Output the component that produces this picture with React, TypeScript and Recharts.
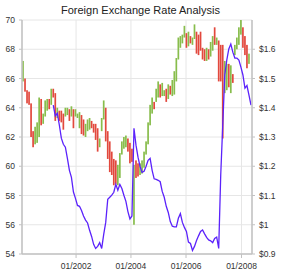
import React from 'react';
import { ComposedChart, Bar, Line, XAxis, YAxis, CartesianGrid } from 'recharts';

// Candle opens / closes (left axis, per period index)
const opens = [
  65.8, 66.0, 65.2, 65.1, 64.3, 62.4, 61.5, 61.6, 62.0, 64.6,
  62.9, 63.4, 63.8, 64.6, 64.2, 65.3, 65.0, 63.3, 63.8, 63.8,
  63.6, 63.4, 63.5, 63.9, 63.4, 63.9, 63.4, 63.3, 62.6, 63.5,
  63.2, 62.0, 62.4, 62.5, 63.1, 62.9, 62.9, 62.6, 61.3, 62.4,
  63.2, 64.0, 62.4, 61.7, 61.0, 60.5, 60.4, 58.7, 59.2, 60.8,
  61.2, 61.3, 61.9, 61.6, 61.2, 56.0, 60.4, 60.2, 59.4, 59.5,
  59.9, 60.8, 61.5, 62.8, 63.6, 64.4, 64.4, 64.7, 65.6, 64.8,
  64.8, 65.3, 64.6, 65.5, 64.8, 64.9, 65.8, 67.3, 68.1, 68.4,
  68.8, 69.1, 68.2, 68.9, 68.3, 68.7, 69.2, 69.0, 69.2, 68.1,
  68.0, 67.2, 68.0, 67.5, 67.9, 69.5, 68.3, 68.6, 68.3, 68.3,
  65.0, 65.2, 67.0, 65.0, 66.3, 67.6, 68.0, 68.3, 69.0, 69.5,
  68.9, 68.3, 67.0,
];
const closes = [
  67.2, 65.1, 64.3, 64.2, 62.0, 61.3, 62.7, 63.0, 64.7, 62.8,
  63.6, 64.5, 64.6, 63.9, 65.3, 64.7, 63.1, 64.0, 63.1, 63.0,
  62.5, 64.0, 64.0, 63.1, 64.1, 62.6, 63.9, 63.6, 63.7, 62.2,
  62.1, 62.9, 63.2, 63.3, 62.6, 62.3, 61.8, 61.0, 61.9, 63.3,
  64.5, 61.7, 60.5, 59.6, 59.4, 58.7, 58.8, 60.1, 60.9, 61.7,
  62.0, 62.1, 61.0, 60.2, 60.3, 60.1, 59.2, 59.3, 60.2, 60.4,
  61.0, 61.7, 63.0, 64.2, 64.7, 63.9, 65.3, 65.8, 64.7, 65.7,
  65.2, 64.4, 65.6, 64.9, 65.9, 66.5, 67.4, 68.8, 68.9, 69.0,
  69.6, 68.1, 69.2, 68.4, 68.8, 69.7, 67.7, 67.6, 67.9, 67.3,
  67.2, 68.1, 67.3, 68.5, 68.9, 68.3, 68.8, 65.8, 65.8, 61.9,
  67.2, 67.0, 65.4, 66.9, 65.7, 68.3, 68.8, 69.5, 70.0, 68.1,
  67.6, 66.7, 67.7,
];
// Exchange rate line (right axis)
const rates: (number | null)[] = [
  null, null, null, null, null, null, null, null, null, null,
  null, null, null, null, null, 1.409, 1.372, 1.381, 1.341, 1.296,
  1.275, 1.265, 1.227, 1.186, 1.162, 1.112, 1.090, 1.066, 1.063, 1.049,
  1.030, 1.016, 1.006, 0.981, 0.960, 0.933, 0.919, 0.926, 0.939, 0.919,
  0.967, 1.008, 1.087, 1.094, 1.101, 1.111, 1.138, 1.118, 1.138, 1.124,
  1.101, 1.080, 1.045, 1.020, 1.030, 1.330, 1.272, 1.231, 1.200, 1.179,
  1.183, 1.200, 1.220, 1.227, 1.186, 1.157, 1.155, 1.152, 1.147, 1.114,
  1.094, 1.063, 1.042, 1.011, 0.995, 0.993, 0.993, 1.022, 1.038, 1.008,
  0.991, 0.977, 0.941, 0.936, 0.912, 0.926, 0.946, 0.962, 0.977, 0.982,
  0.969, 0.957, 0.948, 0.945, 0.939, 0.953, 0.958, 0.919, 1.170, 1.340,
  1.512, 1.563, 1.601, 1.618, 1.590, 1.570, 1.570, 1.563, 1.539, 1.512,
  1.467, 1.476, 1.443, 1.409,
];

const xTicks = [26.3, 53.5, 80.8, 108.3];
const xTickLabels = ['01/2002', '01/2004', '01/2006', '01/2008'];
const leftTicks = [54, 56, 58, 60, 62, 64, 66, 68, 70];
const rightTicks = [0.9, 1, 1.1, 1.2, 1.3, 1.4, 1.5, 1.6];

const GREEN = '#88bd4c';
const RED = '#e2483d';
const BLUE = '#5b22fb';
const FONT = '"Liberation Sans", Arial, Helvetica, sans-serif';

const data = rates.map((r, i) => ({
  idx: i,
  range: i < opens.length ? [Math.min(opens[i], closes[i]), Math.max(opens[i], closes[i])] : null,
  open: i < opens.length ? opens[i] : null,
  close: i < closes.length ? closes[i] : null,
  rate: r,
}));

const Candle = (props: any) => {
  const { x, y, width, height, payload } = props;
  if (!payload || payload.range == null || x == null || y == null) return null;
  const cx = x + width / 2;
  const w = 1.7;
  const top = Math.min(y, y + height);
  const h = Math.max(Math.abs(height), 0.6);
  const up = payload.close >= payload.open;
  return <rect x={cx - w / 2} y={top} width={w} height={h} fill={up ? GREEN : RED} />;
};

const tickStyle = { fontSize: 8.5, fill: '#333', fontFamily: FONT };
const axisLine = { stroke: '#c2c2c2', strokeWidth: 1.5 };

export default function App() {
  return (
    <div style={{ position: 'absolute', left: 0, top: 0, width: 281, height: 275, background: '#fff' }}>
      <div
        style={{
          position: 'absolute', left: 0, top: 4, width: 281, textAlign: 'center',
          fontFamily: FONT, fontSize: 11, lineHeight: '13px', color: '#222',
        }}
      >
        Foreign Exchange Rate Analysis
      </div>
      <ComposedChart width={281} height={275} data={data} margin={{ top: 20, right: 0, bottom: 0, left: 0 }}>
        <CartesianGrid yAxisId="left" stroke="#e6e6e6" strokeWidth={1} />
        <XAxis
          dataKey="idx"
          type="number"
          domain={[-0.5, 113.5]}
          ticks={xTicks}
          interval={0}
          height={21}
          tickFormatter={(v: number) => xTickLabels[xTicks.indexOf(v)] ?? ''}
          tick={tickStyle}
          tickSize={4}
          tickMargin={5}
          axisLine={axisLine}
          tickLine={{ stroke: '#c2c2c2' }}
        />
        <YAxis
          yAxisId="left"
          domain={[54, 70]}
          ticks={leftTicks}
          interval={0}
          width={22}
          tick={tickStyle}
          tickSize={3}
          tickMargin={4}
          axisLine={axisLine}
          tickLine={{ stroke: '#c2c2c2' }}
        />
        <YAxis
          yAxisId="right"
          orientation="right"
          domain={[0.9, 1.7]}
          ticks={rightTicks}
          interval={0}
          width={29}
          tick={tickStyle}
          tickSize={3}
          tickMargin={4}
          tickFormatter={(v: number) => '$' + v}
          axisLine={axisLine}
          tickLine={{ stroke: '#c2c2c2' }}
        />
        <Bar yAxisId="left" dataKey="range" barSize={2} shape={<Candle />} isAnimationActive={false} />
        <Line
          yAxisId="right"
          dataKey="rate"
          type="linear"
          stroke={BLUE}
          strokeWidth={1.3}
          dot={false}
          activeDot={false}
          connectNulls={false}
          isAnimationActive={false}
        />
      </ComposedChart>
    </div>
  );
}
